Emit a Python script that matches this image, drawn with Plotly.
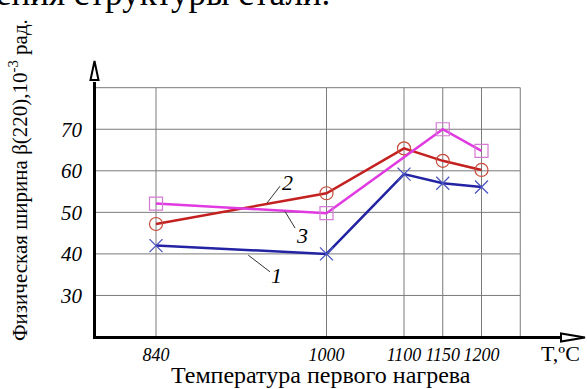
import plotly.graph_objects as go

# ---- data ----
temps = [840, 1000, 1100, 1150, 1200]
series1 = [42.0, 40.0, 59.2, 57.0, 56.1]
series2 = [47.2, 54.6, 65.4, 62.4, 60.2]
series3 = [52.1, 49.8, None, 70.0, 64.8]
y_ticks = [30, 40, 50, 60, 70]
x_tick_labels = ["840", "1000", "1100", "1150", "1200"]

# schematic (non-linear) placement of temperatures on the drawing's x axis
axis_pos = {840: 1.6, 1000: 6.0, 1100: 8.0, 1150: 9.0, 1200: 10.0}
xp = [axis_pos[t] for t in temps]
GRID_RIGHT = 11.0
Y_MIN, Y_TOP = 20, 80

SERIF = "Liberation Serif"
W, H = 587, 389
L, R, T, B = 94, 0, 60, 52
px_x = (W - L - R)
px_y = (H - T - B)
x_unit = 38.75
y_unit = 4.155
x_max = px_x / x_unit
y_max = Y_MIN + px_y / y_unit


def pxx(p):
    return (p - L) / px_x


def pxy(p):
    return (H - B - p) / px_y


fig = go.Figure()

fig.add_trace(go.Scatter(
    x=xp, y=series1, mode="lines+markers", cliponaxis=False,
    line=dict(color="#2323a3", width=2.5),
    marker=dict(symbol="x-thin", size=13, line=dict(color="#4a55c0", width=1.3)),
    showlegend=False))
fig.add_trace(go.Scatter(
    x=xp, y=series2, mode="lines+markers", cliponaxis=False,
    line=dict(color="#c42020", width=2.5),
    marker=dict(symbol="circle-open", size=13, color="#c84a3a", line=dict(width=1.2)),
    showlegend=False))
fig.add_trace(go.Scatter(
    x=xp, y=series3, mode="lines+markers", connectgaps=True, cliponaxis=False,
    line=dict(color="#e03ae0", width=2.5),
    marker=dict(symbol="square-open", size=13, color="#d47ad4", line=dict(width=1.2)),
    showlegend=False))

shapes = []
# grid
for yv in y_ticks + [Y_TOP]:
    shapes.append(dict(type="line", x0=0, x1=GRID_RIGHT, y0=yv, y1=yv,
                       line=dict(color="#7a7a7a", width=1), layer="below"))
for xv in xp + [GRID_RIGHT]:
    shapes.append(dict(type="line", x0=xv, x1=xv, y0=Y_MIN, y1=Y_TOP,
                       line=dict(color="#7a7a7a", width=1), layer="below"))
# axes (paper coords from pixels so they are not clipped)
ax_y = 337.5
ax_x = 94.5
shapes.append(dict(type="line", xref="paper", yref="paper",
                   x0=pxx(ax_x - 1.5), x1=pxx(563), y0=pxy(ax_y), y1=pxy(ax_y),
                   line=dict(color="black", width=3)))
shapes.append(dict(type="line", xref="paper", yref="paper",
                   x0=pxx(ax_x), x1=pxx(ax_x), y0=pxy(ax_y + 1.5), y1=pxy(82),
                   line=dict(color="black", width=3)))
# arrow heads (open triangles)
shapes.append(dict(type="path", xref="paper", yref="paper",
                   path=(f"M {pxx(585)} {pxy(ax_y)} L {pxx(561)} {pxy(ax_y - 4)} "
                         f"L {pxx(561)} {pxy(ax_y + 4)} Z"),
                   fillcolor="white", line=dict(color="black", width=2)))
shapes.append(dict(type="path", xref="paper", yref="paper",
                   path=(f"M {pxx(ax_x)} {pxy(61)} L {pxx(ax_x - 4)} {pxy(80)} "
                         f"L {pxx(ax_x + 4)} {pxy(80)} Z"),
                   fillcolor="white", line=dict(color="black", width=2)))
# leader lines
leaders = [((3.98, 39.7), (4.54, 35.7)),
           ((4.46, 52.2), (4.80, 56.3)),
           ((4.93, 50.2), (5.19, 46.2))]
for (a, b) in leaders:
    shapes.append(dict(type="line", x0=a[0], y0=a[1], x1=b[0], y1=b[1],
                       line=dict(color="#333333", width=1)))

annotations = []
for txt, (x, y) in [("1", (4.72, 34.9)), ("2", (4.99, 57.3)), ("3", (5.38, 44.5))]:
    annotations.append(dict(x=x, y=y, text=txt, showarrow=False,
                            font=dict(family=SERIF, size=22, color="black", style="italic")))


def paper_text(px, py, text, size, angle=0, italic=False, xanchor="center", yanchor="middle"):
    f = dict(family=SERIF, size=size, color="black")
    if italic:
        f["style"] = "italic"
    return dict(x=pxx(px), y=pxy(py), xref="paper", yref="paper", text=text,
                showarrow=False, xanchor=xanchor, yanchor=yanchor, textangle=angle,
                font=f)


annotations.append(paper_text(560, 353, "T,ºC", 22))
annotations.append(paper_text(321, 375, "Температура первого нагрева", 24))
annotations.append(paper_text(18, 180, "Физическая ширина β(220),10<sup>-3</sup> рад.", 21, angle=-90))
annotations.append(paper_text(-6, 15, "ения структуры стали.", 35, xanchor="left", yanchor="bottom"))

fig.update_layout(
    width=W, height=H,
    margin=dict(l=L, r=R, t=T, b=B, pad=0),
    paper_bgcolor="white", plot_bgcolor="white",
    xaxis=dict(range=[0, x_max], showgrid=False, zeroline=False, showline=False,
               tickvals=xp, ticktext=x_tick_labels, ticks="", tickangle=0,
               tickfont=dict(family=SERIF, size=18, color="black", style="italic"),
               ticklabelstandoff=5),
    yaxis=dict(range=[Y_MIN, y_max], showgrid=False, zeroline=False, showline=False,
               tickvals=y_ticks, ticks="",
               tickfont=dict(family=SERIF, size=21, color="black", style="italic"),
               ticklabelstandoff=11),
    shapes=shapes, annotations=annotations,
)

fig.write_html("out.html")
